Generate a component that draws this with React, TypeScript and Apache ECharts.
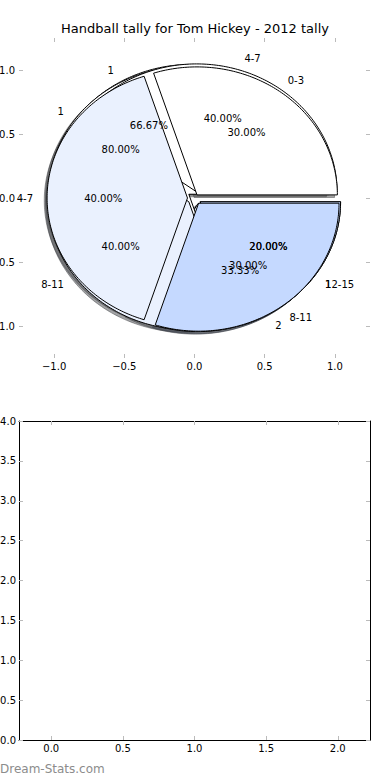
import React, { useEffect, useRef } from "react";
import * as echarts from "echarts";

const titleText = "Handball tally for Tom Hickey - 2012 tally";
const watermarkText = "Dream-Stats.com";

// Four pies drawn on top of each other (last one on top)
const pieALabels = ["1", "2"];
const pieAValues = [2, 1];
const pieAExplode = [0.05, 0.05];

const pieBLabels = ["1", "1"];
const pieBValues = [4, 1];
const pieBExplode = [0.05, 0.05];

const pieCLabels = ["4-7", "8-11", "12-15"];
const pieCValues = [2, 2, 1];
const pieCExplode = [0.05, 0.05, 0.05];

const pieDLabels = ["0-3", "4-7", "8-11"];
const pieDValues = [3, 4, 3];
const pieDExplode = [0.03, 0.05, 0.05];

const wedgeColors = ["#ffffff", "#eaf1fe", "#c5d9ff"];

const pieTicks = [-1, -0.5, 0, 0.5, 1];
const barXTicks = [0, 0.5, 1, 1.5, 2];

type Wedge = {
  t1: number;
  t2: number;
  cx: number;
  cy: number;
  color: string;
  label: string;
  pct: string;
};

const pies = [
  { labels: pieALabels, values: pieAValues, explode: pieAExplode },
  { labels: pieBLabels, values: pieBValues, explode: pieBExplode },
  { labels: pieCLabels, values: pieCValues, explode: pieCExplode },
  { labels: pieDLabels, values: pieDValues, explode: pieDExplode },
];

const wedges: Wedge[] = [];
pies.forEach((p) => {
  const total = p.values.reduce((a, b) => a + b, 0);
  let acc = 0;
  p.values.forEach((v, i) => {
    const t1 = (acc / total) * 360;
    acc += v;
    const t2 = (acc / total) * 360;
    const tm = ((t1 + t2) / 2) * (Math.PI / 180);
    wedges.push({
      t1,
      t2,
      cx: p.explode[i] * Math.cos(tm),
      cy: p.explode[i] * Math.sin(tm),
      color: wedgeColors[i],
      label: p.labels[i],
      pct: ((100 * v) / total).toFixed(2) + "%",
    });
  });
});

type TextItem = { x: number; y: number; text: string; align: string };
const texts: TextItem[] = [];
wedges.forEach((w) => {
  const tm = ((w.t1 + w.t2) / 2) * (Math.PI / 180);
  const lx = w.cx + 1.1 * Math.cos(tm);
  const ly = w.cy + 1.1 * Math.sin(tm);
  texts.push({ x: lx, y: ly, text: w.label, align: lx > 0 ? "left" : "right" });
  texts.push({
    x: w.cx + 0.6 * Math.cos(tm),
    y: w.cy + 0.6 * Math.sin(tm),
    text: w.pct,
    align: "center",
  });
});

function shade(hex: string): string {
  const r = parseInt(hex.slice(1, 3), 16);
  const g = parseInt(hex.slice(3, 5), 16);
  const b = parseInt(hex.slice(5, 7), 16);
  return `rgba(${Math.round(r * 0.3)},${Math.round(g * 0.3)},${Math.round(b * 0.3)},0.5)`;
}

function makeWedgeRender(ox: number, oy: number, isShadow: boolean) {
  return (_params: any, api: any) => {
    const w = wedges[api.value(2)];
    const cx = w.cx + ox;
    const cy = w.cy + oy;
    const pts: number[][] = [api.coord([cx, cy])];
    const n = Math.max(2, Math.ceil(w.t2 - w.t1));
    for (let k = 0; k <= n; k++) {
      const a = ((w.t1 + ((w.t2 - w.t1) * k) / n) * Math.PI) / 180;
      pts.push(api.coord([cx + Math.cos(a), cy + Math.sin(a)]));
    }
    const fill = isShadow ? shade(w.color) : w.color;
    return {
      type: "polygon",
      shape: { points: pts },
      style: {
        fill,
        stroke: isShadow ? fill : "#000000",
        lineWidth: 1,
        lineJoin: "miter",
      },
    };
  };
}

const fmt = (v: number) => (v < 0 ? "\u2212" + (-v).toFixed(1) : v.toFixed(1));
const FONT = "DejaVu Sans";
const tickGray = "#bbbbbb";

export default function App() {
  const ref = useRef<HTMLDivElement>(null);
  useEffect(() => {
    if (!ref.current) return;
    const chart = echarts.init(ref.current, undefined, { renderer: "svg" });

    const pieXAxisBase = {
      type: "value",
      gridIndex: 0,
      min: -1.25,
      max: 1.25,
      splitLine: { show: false },
      axisLine: { show: false, onZero: false },
      axisTick: {
        show: true,
        inside: true,
        length: 4,
        customValues: pieTicks,
        lineStyle: { color: tickGray, width: 1 },
      },
    };
    const barAxisLine = { show: true, onZero: false, lineStyle: { color: "#000", width: 1 } };

    const option: any = {
      animation: false,
      backgroundColor: "#ffffff",
      title: {
        text: titleText,
        left: "center",
        top: 22,
        padding: 0,
        textStyle: { fontSize: 13, fontWeight: "normal", color: "#000", fontFamily: FONT },
      },
      graphic: [
        {
          type: "text",
          left: 0,
          top: 763,
          style: { text: watermarkText, fill: "#8c8c8c", font: `12px "${FONT}"` },
        },
      ],
      grid: [
        { left: 19, top: 38, width: 351, height: 320, containLabel: false, outerBoundsMode: "none" },
        { left: 19, top: 421, width: 351, height: 319, containLabel: false, outerBoundsMode: "none" },
      ],
      xAxis: [
        {
          ...pieXAxisBase,
          position: "bottom",
          axisLabel: {
            show: true,
            customValues: pieTicks,
            formatter: fmt,
            fontSize: 10,
            fontFamily: FONT,
            color: "#000",
            margin: 3,
          },
        },
        { ...pieXAxisBase, position: "top", axisLabel: { show: false } },
        {
          type: "value",
          gridIndex: 1,
          position: "bottom",
          min: -0.225,
          max: 2.225,
          splitLine: { show: false },
          axisLine: barAxisLine,
          axisTick: {
            show: true,
            inside: true,
            length: 4,
            customValues: barXTicks,
            lineStyle: { color: tickGray },
          },
          axisLabel: {
            show: true,
            customValues: barXTicks,
            formatter: fmt,
            fontSize: 10,
            fontFamily: FONT,
            color: "#000",
            margin: 3,
          },
        },
        {
          type: "value",
          gridIndex: 1,
          position: "top",
          min: -0.225,
          max: 2.225,
          splitLine: { show: false },
          axisLine: barAxisLine,
          axisTick: {
            show: true,
            inside: true,
            length: 4,
            customValues: barXTicks,
            lineStyle: { color: tickGray },
          },
          axisLabel: { show: false },
        },
      ],
      yAxis: [
        {
          ...pieXAxisBase,
          position: "left",
          axisLabel: {
            show: true,
            customValues: pieTicks,
            formatter: fmt,
            fontSize: 10,
            fontFamily: FONT,
            color: "#000",
            margin: 4,
          },
        },
        { ...pieXAxisBase, position: "right", axisLabel: { show: false } },
        {
          type: "value",
          gridIndex: 1,
          position: "left",
          min: 0,
          max: 4,
          interval: 0.5,
          splitLine: { show: false },
          axisLine: barAxisLine,
          axisTick: { show: true, inside: true, length: 4, lineStyle: { color: tickGray } },
          axisLabel: {
            show: true,
            formatter: fmt,
            fontSize: 10,
            fontFamily: FONT,
            color: "#000",
            margin: 3,
          },
        },
        {
          type: "value",
          gridIndex: 1,
          position: "right",
          min: 0,
          max: 4,
          interval: 0.5,
          splitLine: { show: false },
          axisLine: barAxisLine,
          axisTick: { show: true, inside: true, length: 4, lineStyle: { color: tickGray } },
          axisLabel: { show: false },
        },
      ],
      series: [
        {
          type: "custom",
          name: "shadows",
          xAxisIndex: 0,
          yAxisIndex: 0,
          z: 1,
          silent: true,
          data: wedges.map((_, i) => [0, 0, i]),
          renderItem: makeWedgeRender(-0.02, -0.02, true),
        },
        {
          type: "custom",
          name: "wedges",
          xAxisIndex: 0,
          yAxisIndex: 0,
          z: 2,
          silent: true,
          data: wedges.map((_, i) => [0, 0, i]),
          renderItem: makeWedgeRender(0, 0, false),
        },
        {
          type: "custom",
          name: "texts",
          xAxisIndex: 0,
          yAxisIndex: 0,
          z: 3,
          silent: true,
          data: texts.map((_, i) => [0, 0, i]),
          renderItem: (_params: any, api: any) => {
            const t = texts[api.value(2)];
            const p = api.coord([t.x, t.y]);
            return {
              type: "text",
              x: p[0],
              y: p[1],
              style: {
                text: t.text,
                fill: "#000",
                fontSize: 10,
                fontFamily: FONT,
                align: t.align,
                verticalAlign: "middle",
              },
            };
          },
        },
        {
          type: "line",
          xAxisIndex: 2,
          yAxisIndex: 2,
          data: [],
        },
      ],
    };
    chart.setOption(option);
    return () => chart.dispose();
  }, []);

  return (
    <div
      ref={ref}
      style={{ position: "absolute", left: 0, top: 0, width: 390, height: 780, background: "#fff" }}
    />
  );
}
